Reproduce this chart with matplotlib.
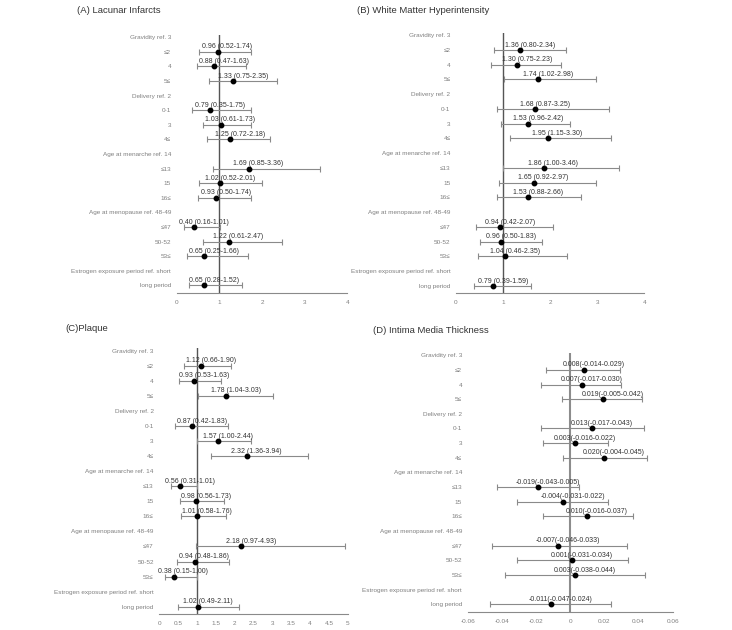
import numpy as np
import matplotlib
matplotlib.use("Agg")
import matplotlib.pyplot as plt

plt.rcParams['font.family'] = ['Liberation Sans', 'DejaVu Sans']

row_labels = ["Gravidity ref. 3", "≤2", "4", "5≤",
              "Delivery ref. 2", "0-1", "3", "4≤",
              "Age at menarche ref. 14", "≤13", "15", "16≤",
              "Age at menopause ref. 48-49", "≤47", "50-52", "53≤",
              "Estrogen exposure period ref. short", "long period"]
header_rows = [0, 4, 8, 12, 16]

# (A) lacunar infarcts, odds ratios
a_est = [0.96, 0.88, 1.33, 0.79, 1.03, 1.25, 1.69, 1.02, 0.93, 0.40, 1.22, 0.65, 0.65]
a_lo = [0.52, 0.47, 0.75, 0.35, 0.61, 0.72, 0.85, 0.52, 0.50, 0.16, 0.61, 0.25, 0.28]
a_hi = [1.74, 1.63, 2.35, 1.75, 1.73, 2.18, 3.36, 2.01, 1.74, 1.01, 2.47, 1.66, 1.52]

# (B) white matter hyperintensity
b_est = [1.36, 1.30, 1.74, 1.68, 1.53, 1.95, 1.86, 1.65, 1.53, 0.94, 0.96, 1.04, 0.79]
b_lo = [0.80, 0.75, 1.02, 0.87, 0.96, 1.15, 1.00, 0.92, 0.88, 0.42, 0.50, 0.46, 0.39]
b_hi = [2.34, 2.23, 2.98, 3.25, 2.42, 3.30, 3.46, 2.97, 2.66, 2.07, 1.83, 2.35, 1.59]

# (C) plaque
c_est = [1.12, 0.93, 1.78, 0.87, 1.57, 2.32, 0.56, 0.98, 1.01, 2.18, 0.94, 0.38, 1.02]
c_lo = [0.66, 0.53, 1.04, 0.42, 1.00, 1.36, 0.31, 0.56, 0.58, 0.97, 0.48, 0.15, 0.49]
c_hi = [1.90, 1.63, 3.03, 1.83, 2.44, 3.94, 1.01, 1.73, 1.76, 4.93, 1.86, 1.00, 2.11]

# (D) intima media thickness, beta
d_est = [0.008, 0.007, 0.019, 0.013, 0.003, 0.020, -0.019, -0.004, 0.010, -0.007, 0.001, 0.003, -0.011]
d_lo = [-0.014, -0.017, -0.005, -0.017, -0.016, -0.004, -0.043, -0.031, -0.016, -0.046, -0.031, -0.038, -0.047]
d_hi = [0.029, 0.030, 0.042, 0.043, 0.022, 0.045, 0.005, 0.022, 0.037, 0.033, 0.034, 0.044, 0.024]

panels = [
    dict(title="(A) Lacunar Infarcts", est=a_est, lo=a_lo, hi=a_hi, ref=1,
         xlim=(0, 4), ticks=[0, 1, 2, 3, 4], fmt="{:.2f} ({:.2f}-{:.2f})",
         pos=[0.2414, 0.5354, 0.2331, 0.4090], tpos=(0.1048, 0.984),
         refc="#555555", refw=1.0),
    dict(title="(B) White Matter Hyperintensity", est=b_est, lo=b_lo, hi=b_hi, ref=1,
         xlim=(0, 4), ticks=[0, 1, 2, 3, 4], fmt="{:.2f} ({:.2f}-{:.2f})",
         pos=[0.6230, 0.5344, 0.2572, 0.4132], tpos=(0.4877, 0.984),
         refc="#555555", refw=1.0),
    dict(title="(C)Plaque", est=c_est, lo=c_lo, hi=c_hi, ref=1,
         xlim=(0, 5), ticks=[0, 0.5, 1, 1.5, 2, 2.5, 3, 3.5, 4, 4.5, 5],
         fmt="{:.2f} ({:.2f}-{:.2f})",
         pos=[0.2176, 0.0249, 0.2574, 0.4222], tpos=(0.0888, 0.479),
         refc="#555555", refw=1.0),
    dict(title="(D) Intima Media Thickness", est=d_est, lo=d_lo, hi=d_hi, ref=0,
         xlim=(-0.06, 0.06), ticks=[-0.06, -0.04, -0.02, 0, 0.02, 0.04, 0.06],
         fmt="{:.3f}({:.3f}-{:.3f})",
         pos=[0.6389, 0.0290, 0.2801, 0.4107], tpos=(0.5092, 0.476),
         refc="#8c8c8c", refw=1.5),
]

data_rows = [i for i in range(len(row_labels)) if i not in header_rows]

fig = plt.figure(figsize=(7.32, 6.3), dpi=100)

for p in panels:
    ax = fig.add_axes(p["pos"])
    est = np.array(p["est"])
    lo = np.array(p["lo"])
    hi = np.array(p["hi"])
    y = np.array(data_rows)

    ax.axvline(p["ref"], color=p["refc"], lw=p["refw"], zorder=1)
    ax.errorbar(est, y, xerr=[est - lo, hi - est], fmt="o", color="black",
                ecolor="#8a8a8a", elinewidth=0.8, capsize=2, capthick=0.8,
                markersize=3.2, zorder=3)
    for e, l, h, yy in zip(est, lo, hi, y):
        ax.annotate(p["fmt"].format(e, l, h), (e, yy), xytext=(7, 3.5),
                    textcoords="offset points", ha="center", va="center",
                    fontsize=5, color="#333333", zorder=4)

    ax.set_xlim(*p["xlim"])
    ax.set_ylim(17.5, -0.15)
    ax.set_xticks(p["ticks"])
    ax.set_xticklabels([f"{t:g}" for t in p["ticks"]])
    ax.set_yticks(range(len(row_labels)))
    ax.set_yticklabels(row_labels)
    ax.tick_params(axis="both", length=0, labelsize=4.6, colors="#808080")
    ax.tick_params(axis="x", pad=5)
    ax.tick_params(axis="y", pad=4)
    for s in ["top", "right", "left"]:
        ax.spines[s].set_visible(False)
    ax.spines["bottom"].set_color("#8a8a8a")
    ax.spines["bottom"].set_linewidth(0.8)
    ax.patch.set_alpha(0)

    fig.text(p["tpos"][0], p["tpos"][1], p["title"], fontsize=6.8,
             color="#333333", ha="left", va="center")

fig.savefig("out.png", dpi=100)
